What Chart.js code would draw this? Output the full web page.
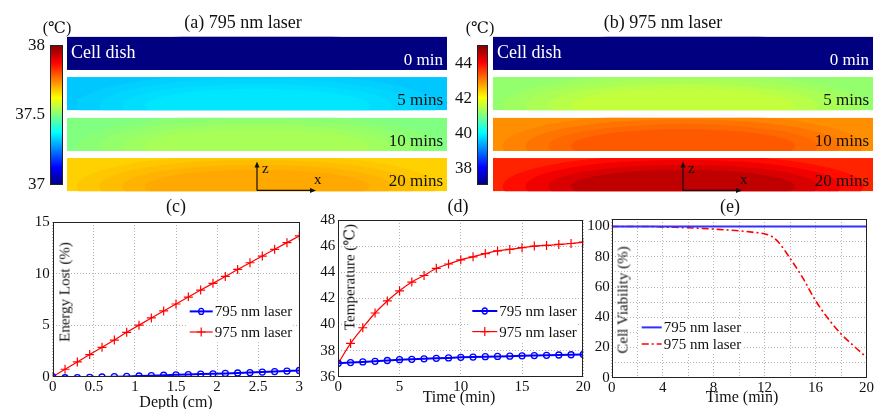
<!DOCTYPE html>
<html>
<head>
<meta charset="utf-8">
<script src="https://cdn.jsdelivr.net/npm/chart.js@4.4.0/dist/chart.umd.min.js"></script>
<style>
  body { margin:0; background:#fff; width:875px; height:409px; overflow:hidden; position:relative;
         font-family:"Liberation Serif","DejaVu Serif",serif; color:#111; }
  canvas { position:absolute; }
  .t { position:absolute; white-space:nowrap; transform:translate(-50%,-50%); line-height:1; }
  .v { transform:translate(-50%,-50%) rotate(-90deg); }
</style>
</head>
<body>
<canvas id="cbA" width="60" height="170" style="left:5px;top:30px"></canvas>
<canvas id="heatA" width="380" height="162" style="left:67px;top:32.5px"></canvas>
<canvas id="cbB" width="55" height="170" style="left:440px;top:30px"></canvas>
<canvas id="heatB" width="380" height="162" style="left:493px;top:32.5px"></canvas>
<canvas id="chC" width="310" height="199" style="left:0px;top:210px"></canvas>
<canvas id="chD" width="300" height="201" style="left:300px;top:208px"></canvas>
<canvas id="chE" width="289" height="201" style="left:586px;top:208px"></canvas>

<div class="t" style="left:57px;top:28px;font-size:16px">(℃)</div>
<div class="t" style="left:480px;top:28px;font-size:16px">(℃)</div>
<div class="t" style="left:243px;top:22px;font-size:18px">(a) 795 nm laser</div>
<div class="t" style="left:663px;top:22px;font-size:18px">(b) 975 nm laser</div>
<div class="t" style="left:176px;top:206px;font-size:18px">(c)</div>
<div class="t" style="left:458px;top:206px;font-size:18px">(d)</div>
<div class="t" style="left:730px;top:206px;font-size:18px">(e)</div>
<div class="t" style="left:176px;top:402px;font-size:16px">Depth (cm)</div>
<div class="t" style="left:459px;top:397px;font-size:16px">Time (min)</div>
<div class="t" style="left:742px;top:397px;font-size:16px">Time (min)</div>
<div class="t v" style="left:65px;top:292px;font-size:15px">Energy Lost (%)</div>
<div class="t v" style="left:350px;top:277px;font-size:15px">Temperature (℃)</div>
<div class="t v" style="left:623px;top:300px;font-size:15px">Cell Viability (%)</div>

<script>
var rowLabels = ['0 min', '5 mins', '10 mins', '20 mins'];
var edgeA = [37.0, 37.32, 37.5, 37.67];
var coreA = [37.0, 37.35, 37.54, 37.71];
var edgeB = [37.1, 41.23, 42.94, 43.78];
var coreB = [37.1, 41.6, 43.36, 44.55];
var rangeA = [37, 38];
var rangeB = [37.1, 45.05];
var ticksA = [37, 37.5, 38];
var ticksB = [38, 40, 42, 44];

// (c) energy lost vs depth
var depth = [0, 0.15, 0.3, 0.45, 0.6, 0.75, 0.9, 1.05, 1.2, 1.35, 1.5, 1.65, 1.8, 1.95, 2.1, 2.25, 2.4, 2.55, 2.7, 2.85, 3];
var lost795 = [0, -0.1, -0.08, -0.06, -0.03, 0, 0.03, 0.07, 0.1, 0.14, 0.18, 0.21, 0.25, 0.28, 0.32, 0.36, 0.4, 0.45, 0.5, 0.55, 0.6];
var lost975 = [0, 0.72, 1.43, 2.15, 2.85, 3.55, 4.3, 5.0, 5.7, 6.38, 7.05, 7.72, 8.4, 9.05, 9.72, 10.4, 11.05, 11.7, 12.35, 13.0, 13.65];

// (d) temperature vs time
var minutes = [0, 1, 2, 3, 4, 5, 6, 7, 8, 9, 10, 11, 12, 13, 14, 15, 16, 17, 18, 19, 20];
var temp795 = [37.03, 37.08, 37.13, 37.18, 37.24, 37.3, 37.33, 37.37, 37.41, 37.44, 37.48, 37.5, 37.53, 37.55, 37.57, 37.6, 37.62, 37.64, 37.66, 37.68, 37.7];
var temp975 = [37.03, 38.55, 39.75, 40.88, 41.8, 42.58, 43.25, 43.75, 44.3, 44.63, 44.95, 45.18, 45.43, 45.63, 45.75, 45.88, 46.0, 46.05, 46.13, 46.2, 46.3];

// (e) cell viability vs time
var vTime = [0, 1, 2, 3, 4, 5, 6, 7, 8, 9, 10, 11, 12, 12.5, 13, 14, 15, 16, 17, 18, 19, 20];
var via795 = [100, 100, 100, 100, 100, 100, 100, 100, 100, 100, 100, 100, 100, 100, 100, 100, 100, 100, 100, 100, 100, 100];
var via975 = [100, 100, 100, 100, 99.7, 99.5, 99.2, 98.8, 98.3, 97.8, 97.2, 96.3, 95.2, 93.8, 90.5, 79, 66, 51, 39, 29, 21, 13.5];

var FONT = '"Liberation Serif","DejaVu Serif",serif';

function jet(v) {
  v = Math.max(0, Math.min(1, v));
  var f = function (x) { return Math.round(255 * Math.max(0, Math.min(1, x))); };
  return 'rgb(' + f(1.5 - Math.abs(4 * v - 3)) + ',' + f(1.5 - Math.abs(4 * v - 2)) + ',' + f(1.5 - Math.abs(4 * v - 1)) + ')';
}
function jetT(t, range) { return jet((t - range[0]) / (range[1] - range[0])); }

// black frame round the plot area
var boxPlugin = {
  id: 'box',
  afterDraw: function (ch) {
    var a = ch.chartArea, c = ch.ctx;
    c.save();
    c.strokeStyle = '#222';
    c.lineWidth = 1;
    c.strokeRect(Math.round(a.left) + 0.5, Math.round(a.top) + 0.5, Math.round(a.right - a.left) - 1, Math.round(a.bottom - a.top) - 1);
    c.restore();
  }
};

// matlab style legend inside the axes
var legPlugin = {
  id: 'mleg',
  afterDatasetsDraw: function (ch, args, o) {
    if (!o || !o.len) return;
    var a = ch.chartArea, c = ch.ctx;
    var x = a.left + o.x, y0 = a.top + o.y;
    c.save();
    c.font = '15px ' + FONT;
    var w = 0;
    ch.data.datasets.forEach(function (ds) { w = Math.max(w, c.measureText(ds.label).width); });
    c.fillStyle = '#fff';
    c.fillRect(x - 3, y0 - o.gap / 2, o.len + w + 6, o.gap * ch.data.datasets.length);
    ch.data.datasets.forEach(function (ds, i) {
      var y = y0 + i * o.gap;
      c.strokeStyle = ds.borderColor;
      c.lineWidth = ds.borderWidth;
      c.setLineDash(ds.borderDash || []);
      c.beginPath(); c.moveTo(x, y); c.lineTo(x + o.len, y); c.stroke();
      c.setLineDash([]);
      var mx = x + o.len / 2, r = ds.pointRadius;
      if (r > 0) {
        c.lineWidth = ds.pointBorderWidth;
        c.beginPath();
        if (ds.pointStyle === 'circle') { c.ellipse(mx, y, r - 0.5, r, 0, 0, Math.PI * 2); }
        else { c.moveTo(mx - r, y); c.lineTo(mx + r, y); c.moveTo(mx, y - r); c.lineTo(mx, y + r); }
        c.stroke();
      }
      c.fillStyle = '#111';
      c.textBaseline = 'middle';
      c.fillText(ds.label, x + o.len + 2, y + 1);
    });
    c.restore();
  }
};

var BAR_PCT = 0.825;

// row labels and z/x axes sign on the dish maps
var dishPlugin = {
  id: 'dish',
  afterDatasetsDraw: function (ch, args, o) {
    var c = ch.ctx, xs = ch.scales.x, ys = ch.scales.y;
    var x0 = xs.getPixelForValue(0), x1 = xs.getPixelForValue(1);
    var h = (ys.bottom - ys.top) / rowLabels.length * BAR_PCT;
    c.save();
    c.textBaseline = 'middle';
    c.font = '17px ' + FONT;
    c.textAlign = 'right';
    ch.data.labels.forEach(function (lab, i) {
      c.fillStyle = i === 0 ? '#fff' : '#111';
      c.fillText(lab, x1 - 4, ys.getPixelForValue(i) + 7);
    });
    c.textAlign = 'left';
    c.fillStyle = '#fff';
    c.font = '18px ' + FONT;
    c.fillText('Cell dish', x0 + 4, ys.getPixelForValue(0));
    // axes sign
    var last = ch.data.labels.length - 1;
    var ox = x0 + (x1 - x0) * 0.5, oy = ys.getPixelForValue(last) + h / 2 - 1;
    c.strokeStyle = '#111'; c.fillStyle = '#111'; c.lineWidth = 1.2;
    c.beginPath(); c.moveTo(ox, oy); c.lineTo(ox, oy - 26); c.moveTo(ox, oy); c.lineTo(ox + 56, oy); c.stroke();
    c.beginPath(); c.moveTo(ox, oy - 29); c.lineTo(ox - 2.5, oy - 23); c.lineTo(ox + 2.5, oy - 23); c.closePath(); c.fill();
    c.beginPath(); c.moveTo(ox + 59, oy); c.lineTo(ox + 53, oy - 2.5); c.lineTo(ox + 53, oy + 2.5); c.closePath(); c.fill();
    c.font = '15px ' + FONT;
    c.fillText('z', ox + 5, oy - 21);
    c.fillText('x', ox + 57, oy - 10);
    c.restore();
  }
};

function heatFill(edge, core, range) {
  return function (ctx) {
    var ch = ctx.chart, i = ctx.dataIndex;
    var xs = ch.scales.x, ys = ch.scales.y;
    if (i === undefined || !xs || !ys || !ch.chartArea) return jetT(edge[0], range);
    var x0 = xs.getPixelForValue(0), x1 = xs.getPixelForValue(1);
    var band = (ys.bottom - ys.top) / rowLabels.length;
    var h = band * BAR_PCT, cy = ys.getPixelForValue(i);
    var off = document.createElement('canvas');
    off.width = ch.width; off.height = ch.height;
    var g = off.getContext('2d');
    g.beginPath(); g.rect(x0, cy - h / 2, x1 - x0, h); g.clip();
    var n = 5, hw = (x1 - x0) / 2, cx = x0 + hw;
    g.fillStyle = jetT(edge[i], range);
    g.fillRect(x0, cy - h / 2, x1 - x0, h);
    for (var k = 1; k < n; k++) {
      var t = edge[i] + (core[i] - edge[i]) * k / (n - 1);
      g.beginPath();
      g.ellipse(cx, cy + h * 0.35, hw * (0.95 - 0.12 * (k - 1)), h * (0.95 - 0.15 * (k - 1)), 0, 0, Math.PI * 2);
      g.fillStyle = jetT(t, range);
      g.fill();
    }
    return ch.ctx.createPattern(off, 'no-repeat');
  };
}

function heatMap(id, edge, core, range) {
  new Chart(document.getElementById(id), {
    type: 'bar',
    data: {
      labels: rowLabels,
      datasets: [{
        data: rowLabels.map(function () { return [0, 1]; }),
        backgroundColor: heatFill(edge, core, range),
        borderWidth: 0,
        barPercentage: BAR_PCT,
        categoryPercentage: 1
      }]
    },
    options: {
      indexAxis: 'y',
      responsive: false,
      animation: false,
      layout: { padding: 0 },
      plugins: { legend: { display: false }, tooltip: { enabled: false } },
      scales: {
        x: { type: 'linear', min: 0, max: 1, display: false },
        y: { display: false }
      }
    },
    plugins: [dishPlugin]
  });
}

function colorBar(id, range, ticks, axisW, pad) {
  new Chart(document.getElementById(id), {
    type: 'bar',
    data: {
      labels: ['T'],
      datasets: [{
        data: [range],
        backgroundColor: function (ctx) {
          var ys = ctx.chart.scales.y;
          if (!ys || !ctx.chart.chartArea) return jet(0.5);
          var g = ctx.chart.ctx.createLinearGradient(0, ys.getPixelForValue(range[0]), 0, ys.getPixelForValue(range[1]));
          for (var k = 0; k <= 8; k++) g.addColorStop(k / 8, jet(k / 8));
          return g;
        },
        borderWidth: 0,
        barPercentage: 1,
        categoryPercentage: 1
      }]
    },
    options: {
      responsive: false,
      animation: false,
      layout: { padding: pad },
      plugins: { legend: { display: false }, tooltip: { enabled: false } },
      scales: {
        x: { display: false },
        y: {
          min: range[0], max: range[1],
          afterBuildTicks: function (s) { s.ticks = ticks.map(function (v) { return { value: v }; }); },
          afterFit: function (s) { s.width = axisW; },
          grid: { drawOnChartArea: false, drawTicks: false },
          border: { display: false },
          ticks: { padding: 5, color: '#111', font: { family: FONT, size: 17 },
                   callback: function (v) { return String(v); } }
        }
      }
    },
    plugins: [boxPlugin]
  });
}

function axis(min, max, step, size, isX, pad, every) {
  return {
    type: 'linear', min: min, max: max,
    ticks: {
      stepSize: step, padding: pad, color: '#111', maxRotation: 0, autoSkip: false, includeBounds: false,
      font: { family: FONT, size: 15 },
      callback: function (v) {
        if (every && Math.abs(v / every - Math.round(v / every)) > 1e-6) return '';
        return String(v);
      }
    },
    grid: { color: '#b5b5b5', drawTicks: false, lineWidth: 1 },
    border: { display: false, dash: [1, 2] },
    afterFit: function (s) { if (isX) s.height = size; else s.width = size; }
  };
}

function pts(xs, ys) { return xs.map(function (x, i) { return { x: x, y: ys[i] }; }); }

function lineChart(id, datasets, sx, sy, pad, leg) {
  new Chart(document.getElementById(id), {
    type: 'line',
    data: { datasets: datasets },
    options: {
      responsive: false,
      animation: false,
      layout: { padding: pad },
      plugins: { legend: { display: false }, tooltip: { enabled: false }, mleg: leg },
      scales: { x: sx, y: sy }
    },
    plugins: [legPlugin, boxPlugin]
  });
}

colorBar('cbA', rangeA, ticksA, 45, { top: 11.3, bottom: 9.3, right: 2.3, left: 0 });
colorBar('cbB', rangeB, ticksB, 37, { top: 11.7, bottom: 7.7, right: 7, left: 0 });
heatMap('heatA', edgeA, coreA, rangeA);
heatMap('heatB', edgeB, coreB, rangeB);

var blue = '#0000ff', red = '#ff0000';

lineChart('chC', [
  { label: '795 nm laser', data: pts(depth, lost795), borderColor: blue, borderWidth: 2,
    pointStyle: 'circle', pointRadius: 3, pointBorderWidth: 1.3, pointBorderColor: blue, pointBackgroundColor: 'rgba(255,255,255,0)' },
  { label: '975 nm laser', data: pts(depth, lost975), borderColor: red, borderWidth: 1.2,
    pointStyle: 'cross', pointRadius: 4.5, pointBorderWidth: 1.2, pointBorderColor: red }
], axis(0, 3, 0.5, 32.3, true, 1), axis(0, 15, 5, 52.7, false, 3),
  { top: 8.3, right: 10.7, left: 0, bottom: 0 }, { x: 137, y: 89.4, gap: 20.6, len: 23 });

lineChart('chD', [
  { label: '795 nm laser', data: pts(minutes, temp795), borderColor: blue, borderWidth: 2,
    pointStyle: 'circle', pointRadius: 3, pointBorderWidth: 1.3, pointBorderColor: blue, pointBackgroundColor: 'rgba(255,255,255,0)' },
  { label: '975 nm laser', data: pts(minutes, temp975), borderColor: red, borderWidth: 1.2,
    pointStyle: 'cross', pointRadius: 4.5, pointBorderWidth: 1.2, pointBorderColor: red, tension: 0.3 }
], axis(0, 20, 5, 32.3, true, 1), axis(36, 48, 2, 38.3, false, 3),
  { top: 8.7, right: 16.7, left: 0, bottom: 0 }, { x: 134, y: 91, gap: 20.6, len: 25 });

lineChart('chE', [
  { label: '795 nm laser', data: pts(vTime, via795), borderColor: '#3030ff', borderWidth: 2, pointRadius: 0 },
  { label: '975 nm laser', data: pts(vTime, via975), borderColor: red, borderWidth: 1.6, borderDash: [7, 3, 2, 3],
    pointRadius: 0, cubicInterpolationMode: 'monotone' }
], axis(0, 20, 2, 31.3, true, 1, 4), axis(0, 105, 10, 25.7, false, 2, 20),
  { top: 10.3, right: 4.3, left: 0, bottom: 0 }, { x: 30, y: 108.4, gap: 16.6, len: 20 });
</script>
</body>
</html>
